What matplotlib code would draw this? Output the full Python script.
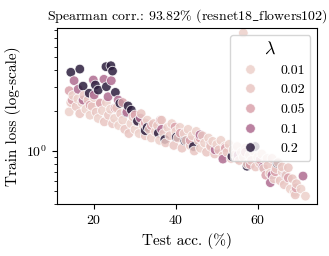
import numpy as np
import pandas as pd
import seaborn as sns
import matplotlib.pyplot as plt

plt.rcParams['font.family'] = 'serif'
plt.rcParams['font.serif'] = ['cmr10']
plt.rcParams['mathtext.fontset'] = 'cm'
plt.rcParams['axes.formatter.use_mathtext'] = True
plt.rcParams['axes.unicode_minus'] = False

# test acc (%) / train loss per lambda
acc_001 = [13.9, 14.8, 16.0, 17.0, 18.0, 19.0, 20.0, 21.0, 22.0, 23.0, 24.0, 25.0, 26.0, 27.0, 28.0,
           29.0, 30.0, 31.0, 32.0, 33.0, 34.0, 35.0, 36.0, 37.0, 38.0, 39.0, 40.0, 41.0, 42.0, 43.0,
           44.0, 45.0, 46.0, 47.0, 48.0, 49.0, 50.0, 51.0, 52.0, 53.0, 54.0, 55.0, 56.0, 57.0, 58.0,
           59.0, 60.0, 61.0, 62.0, 63.0, 64.0, 65.0, 66.0, 67.0, 68.0, 69.0, 70.6, 71.7, 56.5, 62.3]
loss_001 = [1.96, 2.60, 2.45, 2.30, 2.05, 1.85, 2.50, 1.75, 2.00, 2.30, 2.05, 1.75, 1.55, 1.70, 2.00,
            1.60, 1.45, 1.35, 1.55, 1.70, 1.25, 1.40, 1.20, 1.35, 1.50, 1.60, 1.40, 1.50, 1.35, 1.45,
            1.30, 1.40, 1.05, 1.15, 1.25, 1.18, 1.12, 1.20, 1.08, 1.12, 1.02, 1.08, 0.98, 1.05, 0.93,
            1.00, 0.90, 0.95, 0.86, 0.68, 0.62, 0.82, 0.70, 0.66, 0.52, 0.49, 0.52, 0.46, 7.6, 0.88]
acc_002 = [14.3, 15.6, 16.5, 17.5, 18.5, 19.5, 20.5, 21.5, 22.5, 23.5, 24.5, 25.5, 26.5, 27.5, 28.5,
           29.5, 30.5, 31.5, 32.5, 33.5, 34.5, 35.5, 36.5, 37.5, 38.5, 39.5, 40.5, 41.5, 42.5, 43.5,
           44.5, 45.5, 46.5, 47.5, 48.5, 49.5, 50.5, 51.5, 52.5, 53.5, 54.5, 55.5, 56.5, 57.5, 58.5,
           59.5, 60.5, 61.5, 62.5, 63.5, 64.5, 65.5, 66.5, 67.5, 68.5, 69.5, 66.0, 69.2]
loss_002 = [2.30, 2.15, 1.90, 2.60, 2.40, 2.15, 1.95, 2.25, 1.65, 1.85, 1.60, 2.10, 1.90, 1.45, 1.35,
            1.80, 1.65, 1.90, 1.30, 1.45, 1.60, 1.55, 1.70, 1.15, 1.30, 1.10, 1.25, 1.05, 1.20, 1.10,
            1.00, 1.20, 1.30, 0.98, 1.08, 0.95, 1.02, 0.92, 0.98, 0.88, 0.94, 0.85, 0.90, 0.80, 0.85,
            0.76, 0.82, 0.74, 0.78, 0.88, 0.74, 0.60, 0.56, 0.75, 0.62, 0.57, 0.76, 0.47]
acc_005 = [13.9, 14.6, 19.0, 21.5, 25.1, 30.0, 32.5, 36.2, 39.8, 41.1, 45.9, 48.4, 52.1, 57.0, 58.2,
           60.6, 64.3, 67.5, 69.4, 27.0, 34.0, 43.5, 55.0, 62.0]
loss_005 = [2.82, 2.40, 2.20, 2.28, 2.09, 1.86, 1.62, 1.70, 1.51, 1.36, 1.25, 1.11, 1.05, 0.98, 0.79,
            0.86, 0.70, 0.63, 0.53, 2.30, 1.55, 1.20, 0.88, 0.66]
acc_01 = [15.1, 16.1, 19.8, 22.4, 24.2, 20.0, 23.4, 17.3, 25.9, 31.3, 45.9, 49.6, 51.5, 55.2, 61.3,
          63.1, 63.5, 66.8, 71.1, 36.5, 28.0]
loss_01 = [3.35, 2.89, 3.39, 3.43, 3.35, 2.62, 2.54, 2.40, 2.40, 1.76, 1.32, 1.02, 0.87, 0.93, 0.76,
           0.58, 0.66, 0.66, 0.65, 1.45, 1.95]
acc_02 = [14.3, 16.5, 22.9, 24.1, 24.5, 17.3, 20.3, 21.0, 23.0, 25.2, 18.8, 26.3, 28.3, 29.1, 27.9,
          30.6, 33.0, 35.7, 37.3, 40.1, 42.2, 44.3, 32.5, 53.7, 57.4, 59.4, 64.8]
loss_02 = [3.87, 4.09, 4.26, 4.33, 3.95, 3.05, 3.11, 2.85, 3.02, 2.74, 2.70, 2.27, 2.17, 2.02, 1.93,
           1.67, 1.50, 1.36, 1.22, 1.27, 1.19, 1.08, 1.42, 0.91, 0.77, 1.08, 0.81]

lambdas = [0.01, 0.02, 0.05, 0.1, 0.2]
accs = [acc_001, acc_002, acc_005, acc_01, acc_02]
losses = [loss_001, loss_002, loss_005, loss_01, loss_02]

df = pd.concat([pd.DataFrame({'acc': a, 'loss': l, 'lam': lam})
                for a, l, lam in zip(accs, losses, lambdas)], ignore_index=True)
df = df.sort_values('acc', kind='stable')

fig = plt.figure(figsize=(3.29, 2.56), dpi=100)
ax = fig.add_axes([0.173, 0.202, 0.7915, 0.689])
sns.scatterplot(data=df, x='acc', y='loss', hue='lam', legend='full', ax=ax,
                s=48, alpha=0.85, linewidth=0.6)
ax.set_yscale('log')
ax.set_xlim(10.9, 74.6)
ax.set_ylim(0.40, 8.3)
ax.set_xticks([20, 40, 60])
ax.tick_params(labelsize=10)
ax.set_xlabel('Test acc. (%)', fontsize=11)
ax.set_ylabel('Train loss (log-scale)', fontsize=11)
ax.set_title(r'Spearman corr.: 93.82% (resnet18$\_$flowers102)', fontsize=10)

handles, labels = ax.get_legend_handles_labels()
ax.legend(handles, labels, title=r'$\lambda$', loc='upper right', fontsize=10,
          title_fontsize=13, handletextpad=1.2)

plt.savefig('out.png', dpi=100)
